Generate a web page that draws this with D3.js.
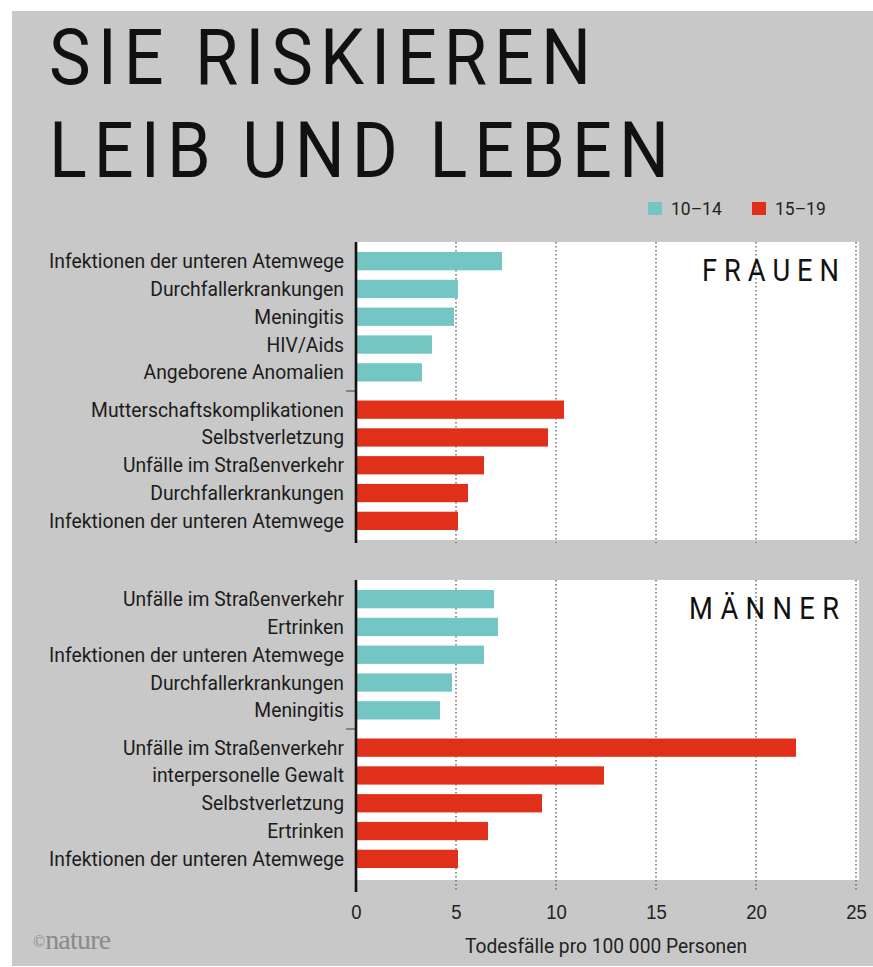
<!DOCTYPE html>
<html><head><meta charset="utf-8">
<script src="https://cdn.jsdelivr.net/npm/d3@7"></script>
<style>
html,body{margin:0;padding:0;background:#fff;}
svg{display:block;font-family:Roboto,"Noto Sans",sans-serif;}
</style>
</head><body>
<svg id="c" width="873" height="967"></svg>
<script>
// ---------- data ----------
const titleLines = ["SIE RISKIEREN", "LEIB UND LEBEN"];
const ageGroups = ["10–14", "15–19"];
const panelNames = ["FRAUEN", "MÄNNER"];
const frauenCauses1014 = ["Infektionen der unteren Atemwege", "Durchfallerkrankungen", "Meningitis", "HIV/Aids", "Angeborene Anomalien"];
const frauenValues1014 = [7.3, 5.1, 4.9, 3.8, 3.3];
const frauenCauses1519 = ["Mutterschaftskomplikationen", "Selbstverletzung", "Unfälle im Straßenverkehr", "Durchfallerkrankungen", "Infektionen der unteren Atemwege"];
const frauenValues1519 = [10.4, 9.6, 6.4, 5.6, 5.1];
const maennerCauses1014 = ["Unfälle im Straßenverkehr", "Ertrinken", "Infektionen der unteren Atemwege", "Durchfallerkrankungen", "Meningitis"];
const maennerValues1014 = [6.9, 7.1, 6.4, 4.8, 4.2];
const maennerCauses1519 = ["Unfälle im Straßenverkehr", "interpersonelle Gewalt", "Selbstverletzung", "Ertrinken", "Infektionen der unteren Atemwege"];
const maennerValues1519 = [22.0, 12.4, 9.3, 6.6, 5.1];
const xTicks = [0, 5, 10, 15, 20, 25];
const xTitle = "Todesfälle pro 100 000 Personen";
const credit = "nature";

// ---------- styles ----------
const colors = {"10–14": "#73c6c3", "15–19": "#e1301a"};
const bg = "#c8c8c8";

const svg = d3.select("#c");
svg.append("rect").attr("x", 12).attr("y", 11).attr("width", 861).attr("height", 955).attr("fill", bg);

const x = d3.scaleLinear().domain([0, 25]).range([356, 856]);

function fitted(g, str, opts) {
  const t = g.append("text").text(str)
    .attr("font-size", opts.size).attr("font-weight", opts.weight || 400)
    .attr("fill", opts.fill || "#111");
  const s = opts.sx || 1;
  if (opts.width) t.attr("textLength", opts.width / s).attr("lengthAdjust", "spacing");
  t.attr("text-anchor", opts.anchor || "start")
   .attr("transform", `translate(${opts.x},${opts.y}) scale(${s},1)`);
  return t;
}
function widthOf(str, size) {
  const p = svg.append("text").attr("font-size", size).text(str);
  const w = p.node().getComputedTextLength();
  p.remove();
  return w;
}

// title
fitted(svg, titleLines[0], {x: 49, y: 84, size: 78, weight: 400, sx: 0.9, width: 542});
fitted(svg, titleLines[1], {x: 49, y: 177, size: 78, weight: 400, sx: 0.9, width: 620});

// legend
const legendX = [648, 752];
ageGroups.forEach((g, i) => {
  svg.append("rect").attr("x", legendX[i]).attr("y", 202).attr("width", 14).attr("height", 13).attr("fill", colors[g]);
  svg.append("text").attr("transform", `translate(${legendX[i] + 23},215) scale(0.92,1)`)
    .attr("font-size", 19).attr("fill", "#222").text(g);
});

const panels = [
  {name: panelNames[0], top: 242, bottom: 540, gridEnd: 543,
   groups: [{age: ageGroups[0], causes: frauenCauses1014, values: frauenValues1014},
            {age: ageGroups[1], causes: frauenCauses1519, values: frauenValues1519}]},
  {name: panelNames[1], top: 580, bottom: 880, gridEnd: 892,
   groups: [{age: ageGroups[0], causes: maennerCauses1014, values: maennerValues1014},
            {age: ageGroups[1], causes: maennerCauses1519, values: maennerValues1519}]}
];

const labelSize = 20.5;
const labelSx = 295 / widthOf("Infektionen der unteren Atemwege", labelSize);

panels.forEach((p, pi) => {
  const g = svg.append("g");
  g.append("rect").attr("x", x(0)).attr("y", p.top).attr("width", 859 - x(0)).attr("height", p.bottom - p.top).attr("fill", "#fff");
  g.selectAll(".grid").data(xTicks.filter(d => d > 0)).join("line")
    .attr("x1", d => x(d)).attr("x2", d => x(d))
    .attr("y1", p.top).attr("y2", p.gridEnd)
    .attr("stroke", "#666").attr("stroke-width", 1.4).attr("stroke-dasharray", "1.4,2.6");

  const outer = d3.scaleBand().domain(ageGroups).range([p.top + 10, p.top + 288]).paddingInner(0.128);
  const inner = d3.scaleBand().domain(d3.range(5)).range([0, outer.bandwidth()]).paddingInner(0.342);

  p.groups.forEach(grp => {
    const rows = grp.causes.map((c, i) => ({cause: c, value: grp.values[i], i}));
    g.selectAll(null).data(rows).join("rect")
      .attr("x", x(0)).attr("y", d => outer(grp.age) + inner(d.i))
      .attr("width", d => x(d.value) - x(0)).attr("height", inner.bandwidth())
      .attr("fill", colors[grp.age]);
    g.selectAll(null).data(rows).join("text")
      .attr("transform", d => `translate(344,${outer(grp.age) + inner(d.i) + inner.bandwidth() / 2 + 7}) scale(${labelSx},1)`)
      .attr("text-anchor", "end").attr("font-size", labelSize).attr("fill", "#1c1c1c")
      .text(d => d.cause);
  });

  const sepY = (outer(ageGroups[0]) + outer.bandwidth() + outer(ageGroups[1])) / 2;
  g.append("line").attr("x1", 346).attr("x2", x(0)).attr("y1", sepY).attr("y2", sepY)
    .attr("stroke", "#555").attr("stroke-width", 1.2);

  g.append("line").attr("x1", x(0)).attr("x2", x(0)).attr("y1", p.top).attr("y2", p.gridEnd)
    .attr("stroke", "#111").attr("stroke-width", 2.6);

  fitted(g, p.name, {x: 839, y: p.top + 39, size: 31, sx: 0.88, width: pi === 0 ? 137 : 150, anchor: "end"});
});

// x axis tick labels
const ax = svg.append("g").attr("transform", "translate(0,904)")
  .call(d3.axisBottom(x).tickValues(xTicks).tickSize(0).tickPadding(0).tickFormat(d3.format("d")));
ax.select(".domain").remove();
ax.selectAll("text").attr("font-size", 21).attr("fill", "#222").attr("font-family", null)
  .attr("transform", "scale(0.88,1)");

// axis title
const tSize = 20;
const tSx = 282 / widthOf(xTitle, tSize);
svg.append("text").attr("transform", `translate(606,953) scale(${tSx},1)`)
  .attr("text-anchor", "middle").attr("font-size", tSize).attr("fill", "#222").text(xTitle);

// credit
const cr = svg.append("text").attr("x", 33).attr("y", 949)
  .style("font-family", "'Liberation Serif', 'DejaVu Serif', serif").attr("fill", "#8a8a8a");
cr.append("tspan").attr("font-size", 16).attr("dy", -2).text("©");
cr.append("tspan").attr("font-size", 28).attr("dy", 2).attr("letter-spacing", -0.8).text(credit);
</script>
</body></html>
